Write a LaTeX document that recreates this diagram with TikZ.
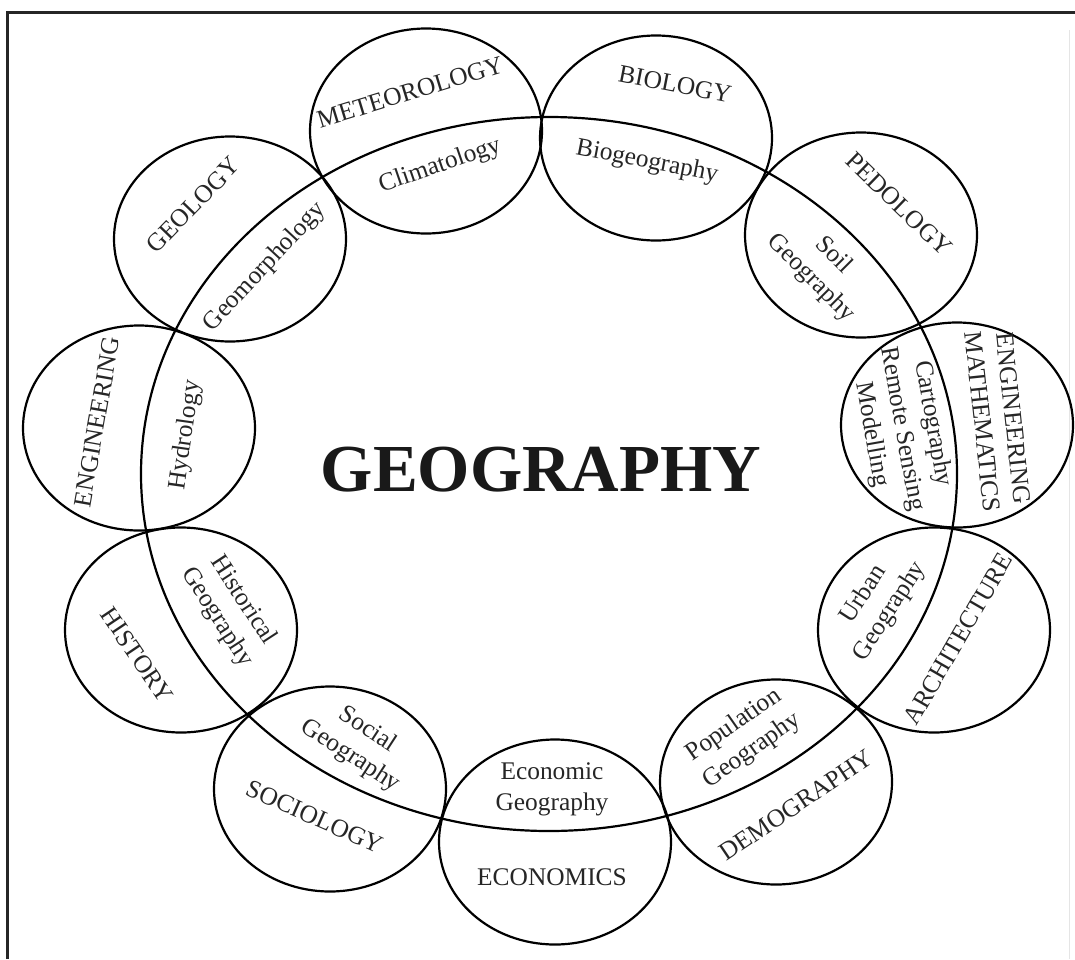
\documentclass[tikz,border=0pt]{standalone}
\usepackage{fontspec}
\setmainfont{Liberation Serif}
\usepackage{tikz}
\usetikzlibrary{positioning,shapes.geometric}

\begin{document}
\begin{tikzpicture}[
      x = 0.5pt, y = -0.5pt,
      field/.style={ellipse, draw, line width = 1.1pt, inner sep = 0pt,
                    minimum width = 116pt, minimum height = 102.5pt},
      lab/.style={font=\fontsize{12.7}{15.5}\selectfont, text=black!85,
                  align=center, inner sep = 0pt},
    ]
      \useasboundingbox (0,0) rectangle (1075,959);

      % frame
      \draw[line width = 1.5pt, black!85] (7,959) -- (7,12) -- (1075,12);
      \draw[black!10] (1069,30) -- (1069,959);

      % ring
      \node[field, minimum width = 408pt, minimum height = 357pt] (ring) at (549,474) {};
      \node[font=\fontsize{33.6}{40}\selectfont\bfseries, text=black!90, inner sep = 0pt]
        (geo) at (541,470) {GEOGRAPHY};

      % circles
      \node[field] (met)  at (426,131) {};
      \node[field] (bio)  at (656,138) {};
      \node[field] (ped)  at (861,235) {};
      \node[field] (math) at (957,425) {};
      \node[field] (arch) at (934,630) {};
      \node[field] (dem)  at (776,782) {};
      \node[field] (eco)  at (555,842) {};
      \node[field] (soc)  at (330,789) {};
      \node[field] (his)  at (181,630) {};
      \node[field] (eng)  at (139,428) {};
      \node[field] (gel)  at (230,239) {};

      % outside the ring
      \node[lab, rotate = 17]  (metxo)  at (410,92)  {METEOROLOGY};
      \node[lab, rotate = -11] (bioxo)  at (675,84)  {BIOLOGY};
      \node[lab, rotate = -44] (pedxo)  at (899,204) {PEDOLOGY};
      \node[lab, rotate = -84] (mathxo) at (998,420) {ENGINEERING\\MATHEMATICS};
      \node[lab, rotate = 60]  (archxo) at (958,639) {ARCHITECTURE};
      \node[lab, rotate = 34]  (demxo)  at (796,805) {DEMOGRAPHY};
      \node[lab]               (ecoxo)  at (552,877) {ECONOMICS};
      \node[lab, rotate = -24] (socxo)  at (315,817) {SOCIOLOGY};
      \node[lab, rotate = -56] (hisxo)  at (137,655) {HISTORY};
      \node[lab, rotate = 80]  (engxo)  at (97,422)  {ENGINEERING};
      \node[lab, rotate = 46]  (gelxo)  at (193,205) {GEOLOGY};

      % inside the ring
      \node[lab, rotate = 19]  (metxi)  at (440,166) {Climatology};
      \node[lab, rotate = -11] (bioxi)  at (647,162) {Biogeography};
      \node[lab, rotate = -45] (pedxi)  at (822,267) {Soil\\Geography};
      \node[lab, rotate = -80] (mathxi) at (902,429) {Cartography\\Remote Sensing\\Modelling};
      \node[lab, rotate = 57]  (archxi) at (877,603) {Urban\\Geography};
      \node[lab, rotate = 35]  (demxi)  at (743,738) {Population\\Geography};
      \node[lab]               (ecoxi)  at (552,789) {Economic\\Geography};
      \node[lab, rotate = -33] (socxi)  at (359,743) {Social\\Geography};
      \node[lab, rotate = -57] (hisxi)  at (230,609) {Historical\\Geography};
      \node[lab, rotate = 82]  (engxi)  at (186,435) {Hydrology};
      \node[lab, rotate = 47]  (gelxi)  at (265,267) {Geomorphology};

    \end{tikzpicture}
\end{document}
